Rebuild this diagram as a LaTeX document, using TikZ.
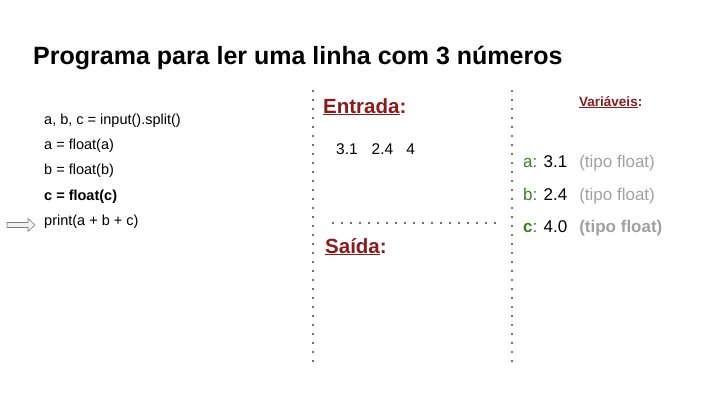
\documentclass[tikz,border=0pt]{standalone}
\usepackage{fontspec}
\setmainfont{Liberation Sans}
\usetikzlibrary{positioning}
\definecolor{darkred}{RGB}{140,26,26}
\definecolor{vargreen}{RGB}{60,125,35}
\definecolor{typegray}{RGB}{160,160,160}
\definecolor{dotgray}{RGB}{115,115,115}

\begin{document}
\begin{tikzpicture}[x=1pt,y=-1pt,
    code/.style={anchor=base west,inner sep=0pt,font=\fontsize{14.5}{17}\selectfont},
    head/.style={anchor=base west,inner sep=0pt,text=darkred,font=\bfseries\fontsize{20.5}{24}\selectfont},
    var/.style={anchor=base west,inner sep=0pt,font=\fontsize{17}{20}\selectfont},
    sep/.style={dotgray,line width=1.8pt,dash pattern=on 1.8pt off 7.2pt}]
    \useasboundingbox (0,0) rectangle (720,405);
    % title
    \node (T) [anchor=base west,inner sep=0pt,font=\bfseries\fontsize{25}{30}\selectfont] at (33,64) {Programa para ler uma linha com 3 números};
    % program
    \node (L1) [code] at (44,124) {a, b, c = input().split()};
    \node (L2) [code] at (44,149) {a = float(a)};
    \node (L3) [code] at (44,174) {b = float(b)};
    \node (L4) [code,font=\bfseries\fontsize{14.5}{17}\selectfont] at (44,200) {c = float(c)};
    \node (L5) [code] at (44,225) {print(a + b + c)};
    \draw [gray,fill=gray!12,line width=0.6pt]
        (7,222.5) -- (28,222.5) -- (28,218.5) -- (35,225) -- (28,231.5) -- (28,227.5) -- (7,227.5) -- cycle;
    % columns
    \coordinate (C1top) at (313,90);
    \coordinate (C1bot) at (313,362);
    \coordinate (C2top) at (512,90);
    \coordinate (C2bot) at (512,362);
    \coordinate (Hl) at (332,223);
    \coordinate (Hr) at (497,223);
    \draw [sep] (C1top) -- (C1bot);
    \draw [sep] (C2top) -- (C2bot);
    \draw [sep] (Hl) -- (Hr);
    % input / output
    \node (In) [head] at (323,113) {\underline{Entrada}:};
    \node (Nums) [anchor=base west,inner sep=0pt,font=\fontsize{15.5}{18}\selectfont] at (336,154) {3.1\hspace{14pt}2.4\hspace{13pt}4};
    \node (Out) [head] at (325,253) {\underline{Saída}:};
    % variables
    \node (V) [anchor=base west,inner sep=0pt,text=darkred,font=\bfseries\fontsize{13.5}{16}\selectfont] at (579,106) {\underline{Variáveis}:};
    \node (Va) [var] at (523,167) {\textcolor{vargreen}{a:} 3.1\hspace{12pt}\textcolor{typegray}{(tipo float)}};
    \node (Vb) [var] at (523,200) {\textcolor{vargreen}{b:} 2.4\hspace{12pt}\textcolor{typegray}{(tipo float)}};
    \node (Vc) [var] at (523,232) {\textcolor{vargreen}{\bfseries c}\textcolor{vargreen}{:} 4.0\hspace{12pt}\textcolor{typegray}{\bfseries(tipo float)}};
\end{tikzpicture}
\end{document}
